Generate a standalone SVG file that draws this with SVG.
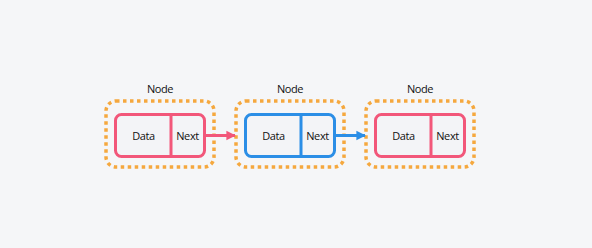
<svg xmlns="http://www.w3.org/2000/svg" width="592" height="248" viewBox="0 0 592 248">
<style>
.bg{fill:#f5f6f8}
.outer{fill:none;stroke:#f5a83e;stroke-width:3.5;stroke-dasharray:3.5 3.5}
.inner{fill:#f3f4f7;stroke-width:3}
.pink{stroke:#f2577a}
.blue{stroke:#2b8ee6}
.lbl{font-family:"Open Sans","Liberation Sans",sans-serif;font-size:11px;fill:#111;text-anchor:middle;letter-spacing:-0.4px}
.conn{fill:none;stroke-width:3}
</style>
<defs>
<marker id="ap" viewBox="0 0 10 10" refX="9" refY="5" markerWidth="3.2" markerHeight="3.6" orient="auto" markerUnits="strokeWidth"><path d="M0,0 L10,5 L0,10 z" fill="#f2577a"/></marker>
<marker id="ab" viewBox="0 0 10 10" refX="9" refY="5" markerWidth="3.2" markerHeight="3.6" orient="auto" markerUnits="strokeWidth"><path d="M0,0 L10,5 L0,10 z" fill="#2b8ee6"/></marker>
</defs>
<rect class="bg" x="0" y="0" width="592" height="248"/>
<g id="node1">
<text class="lbl" x="160" y="93">Node</text>
<rect class="outer" x="106" y="101" width="108" height="66" rx="10"/>
<rect class="inner pink" x="115.5" y="114.5" width="89" height="42" rx="6"/>
<line class="pink" x1="171" y1="114.5" x2="171" y2="156.5" stroke-width="3"/>
<text class="lbl" x="143.5" y="139.5">Data</text>
<text class="lbl" x="187.5" y="139.5">Next</text>
</g>
<g id="node2">
<text class="lbl" x="290" y="93">Node</text>
<rect class="outer" x="236" y="101" width="108" height="66" rx="10"/>
<rect class="inner blue" x="245.5" y="114.5" width="89" height="42" rx="6"/>
<line class="blue" x1="301" y1="114.5" x2="301" y2="156.5" stroke-width="3"/>
<text class="lbl" x="273.5" y="139.5">Data</text>
<text class="lbl" x="317.5" y="139.5">Next</text>
</g>
<g id="node3">
<text class="lbl" x="420" y="93">Node</text>
<rect class="outer" x="366" y="101" width="108" height="66" rx="10"/>
<rect class="inner pink" x="375.5" y="114.5" width="89" height="42" rx="6"/>
<line class="pink" x1="431" y1="114.5" x2="431" y2="156.5" stroke-width="3"/>
<text class="lbl" x="403.5" y="139.5">Data</text>
<text class="lbl" x="447.5" y="139.5">Next</text>
</g>
<g id="connectors">
<line class="conn pink" x1="206" y1="135.5" x2="235" y2="135.5" marker-end="url(#ap)"/>
<line class="conn blue" x1="336" y1="135.5" x2="365" y2="135.5" marker-end="url(#ab)"/>
</g>
</svg>
